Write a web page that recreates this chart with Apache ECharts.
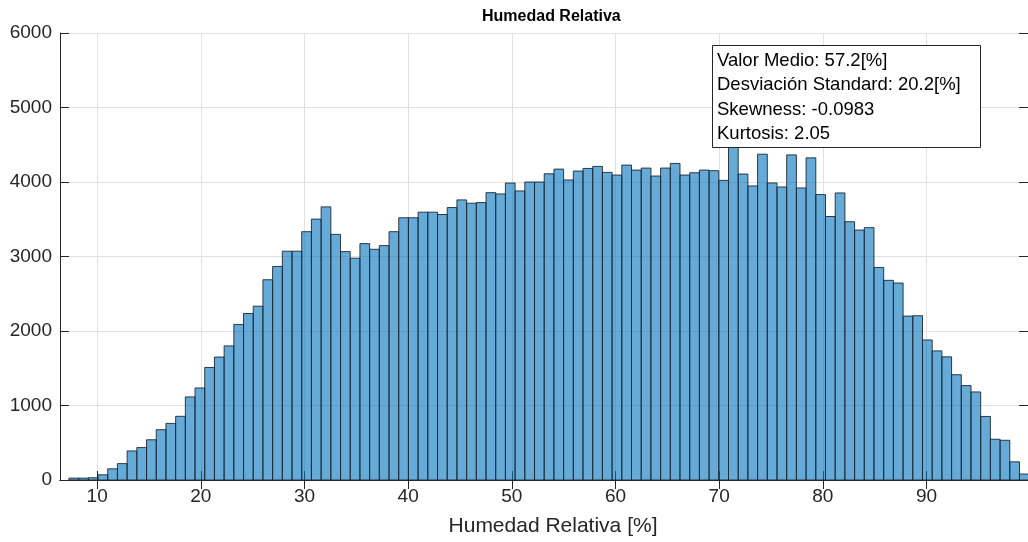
<!DOCTYPE html>
<html>
<head>
<meta charset="utf-8">
<script src="https://cdn.jsdelivr.net/npm/echarts@6/dist/echarts.min.js"></script>
<style>
  html, body { margin: 0; padding: 0; background: #fff; }
  #chart { width: 1028px; height: 542px; }
</style>
</head>
<body>
<div id="chart"></div>
<script>
// ---- data ----
const binStart = 7.28;      // left edge of first bin [%]
const binWidth = 0.9356;    // bin width [%]
const counts = [
  25, 25, 30, 70, 150, 220, 390, 435, 540, 675,
  760, 855, 1115, 1235, 1510, 1650, 1800, 2088, 2235, 2333,
  2688, 2866, 3071, 3071, 3333, 3502, 3666, 3297, 3066, 2977,
  3173, 3097, 3146, 3333, 3520, 3520, 3595, 3595, 3564, 3657,
  3760, 3715, 3724, 3857, 3840, 3986, 3880, 4000, 4000, 4110,
  4173, 4027, 4147, 4182, 4209, 4129, 4093, 4227, 4160, 4187,
  4080, 4187, 4249, 4093, 4124, 4160, 4152, 4022, 4475, 4107,
  3947, 4373, 3987, 3933, 4364, 3920, 4324, 3831, 3537, 3853,
  3467, 3355, 3387, 2853, 2680, 2644, 2200, 2205, 1880, 1733,
  1653, 1413, 1267, 1182, 853, 547, 533, 244, 80
];
const xTicks = [10, 20, 30, 40, 50, 60, 70, 80, 90];
const yTicks = [0, 1000, 2000, 3000, 4000, 5000, 6000];
const titleText = 'Humedad Relativa';
const xName = 'Humedad Relativa [%]';
const statsLines = [
  'Valor Medio: 57.2[%]',
  'Desviación Standard: 20.2[%]',
  'Skewness: -0.0983',
  'Kurtosis: 2.05'
];

// ---- build ----
const histData = counts.map((c, i) => [binStart + i * binWidth, binStart + (i + 1) * binWidth, c]);

const FONT = '"Liberation Sans", Arial, Helvetica, sans-serif';
const TXT = '#262626';
const xMin = 6.417, xMax = 99.79;

const chart = echarts.init(document.getElementById('chart'), null, { renderer: 'canvas' });

const xCommon = {
  type: 'value', min: xMin, max: xMax,
  axisLine: { show: true, lineStyle: { color: TXT, width: 1 } },
  axisTick: { show: true, inside: true, length: 9, customValues: xTicks, lineStyle: { color: TXT } },
  splitLine: { show: false }
};
const yCommon = {
  type: 'value', min: yTicks[0], max: yTicks[yTicks.length - 1], interval: 1000,
  axisLine: { show: true, lineStyle: { color: TXT, width: 1 } },
  axisTick: { show: true, inside: true, length: 9, lineStyle: { color: TXT } },
  splitLine: { show: false }
};

const option = {
  backgroundColor: '#fff',
  animation: false,
  grid: { left: 60, top: 33, width: 972, height: 450, containLabel: false },
  xAxis: [
    Object.assign({}, xCommon, {
      position: 'bottom',
      splitLine: { show: true, lineStyle: { color: '#e0e0e0', width: 1 } },
      axisLabel: { show: true, customValues: xTicks, color: TXT, fontSize: 19, fontFamily: FONT, margin: 7,
                   formatter: v => String(v) },
      name: xName, nameLocation: 'middle', nameGap: 36,
      nameTextStyle: { color: TXT, fontSize: 21, fontFamily: FONT, padding: [0, 0, 0, 18] }
    }),
    Object.assign({}, xCommon, { position: 'top', axisLabel: { show: false } })
  ],
  yAxis: [
    Object.assign({}, yCommon, {
      position: 'left',
      splitLine: { show: true, lineStyle: { color: '#e0e0e0', width: 1 } },
      axisLabel: { show: true, color: TXT, fontSize: 19, fontFamily: FONT, margin: 8,
                   padding: [5, 0, 0, 0], formatter: v => String(v) }
    }),
    Object.assign({}, yCommon, { position: 'right', axisLabel: { show: false } })
  ],
  series: [{
    type: 'custom',
    xAxisIndex: 0, yAxisIndex: 0,
    clip: true,
    encode: { x: [0, 1], y: 2 },
    data: histData,
    renderItem: function (params, api) {
      const p0 = api.coord([api.value(0), api.value(2)]);
      const p1 = api.coord([api.value(1), 0]);
      return {
        type: 'rect',
        shape: { x: p0[0], y: p0[1], width: p1[0] - p0[0], height: p1[1] - p0[1] },
        style: { fill: 'rgba(0,114,189,0.6)', stroke: '#1c2833', lineWidth: 0.9 }
      };
    },
    z: 2
  }],
  graphic: [
    {
      type: 'text', left: 552 - 70, top: 9, z: 100,
      style: { text: titleText, fontSize: 16, fontWeight: 'bold', fontFamily: FONT, fill: '#000' }
    },
    {
      type: 'rect', left: 712, top: 45, z: 100,
      shape: { x: 0, y: 0, width: 268, height: 102 },
      style: { fill: '#ffffff', stroke: TXT, lineWidth: 1 }
    }
  ].concat(statsLines.map((t, i) => ({
    type: 'text', x: 717, y: 61 + i * 24.4, z: 101,
    style: { text: t, fontSize: 18.5, fontFamily: FONT, fill: '#000', verticalAlign: 'middle', align: 'left' }
  })))
};
chart.setOption(option);
</script>
</body>
</html>
